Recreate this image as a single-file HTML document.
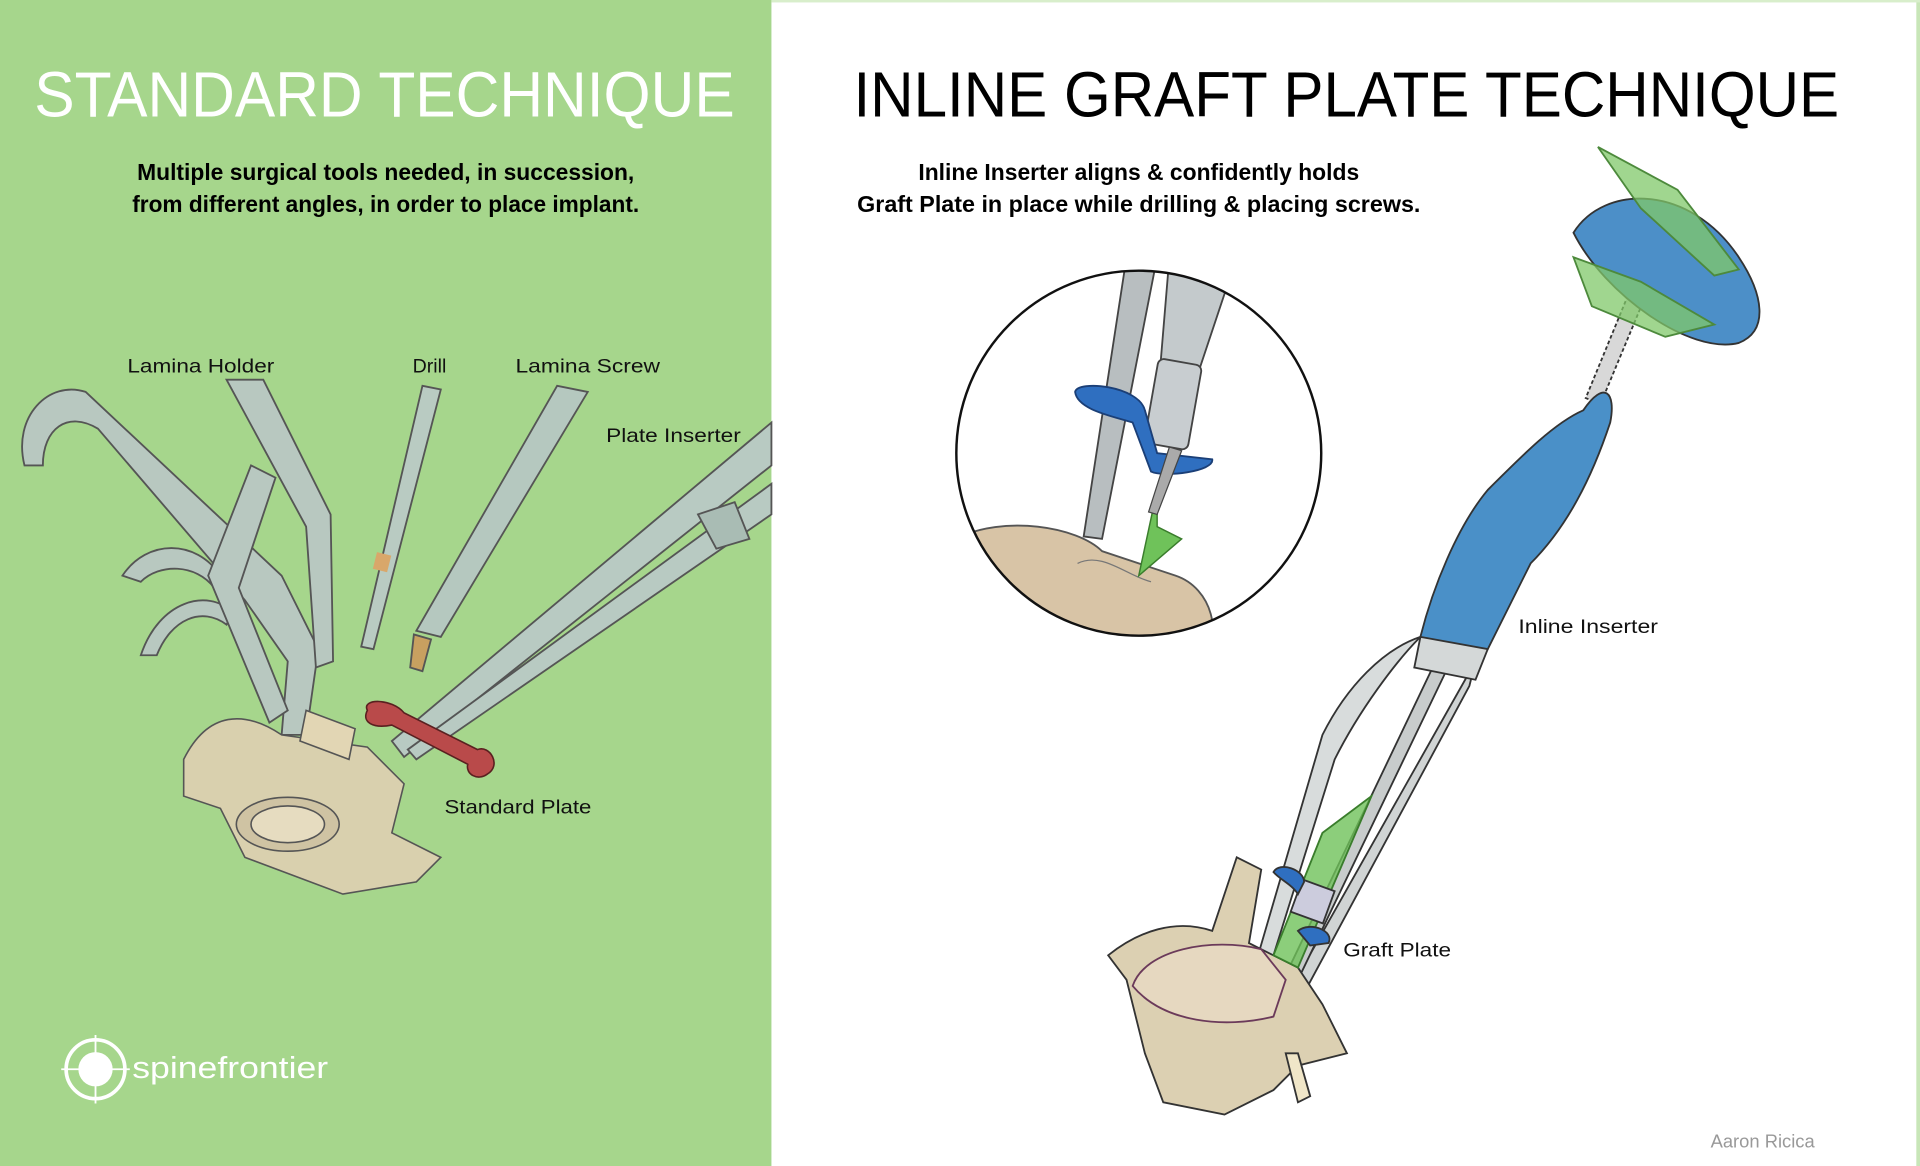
<!DOCTYPE html>
<html><head><meta charset="utf-8"><style>
html,body{margin:0;padding:0;background:#fff;width:1920px;height:1166px;overflow:hidden}
svg{display:block}
text{font-family:"Liberation Sans",sans-serif}
</style></head><body>
<svg width="1920" height="1166" viewBox="0 0 1568 952" preserveAspectRatio="none" xmlns="http://www.w3.org/2000/svg">
<rect x="0" y="0" width="1568" height="952" fill="#fff"/>
<rect x="0" y="0" width="630" height="952" fill="#a6d68c"/>
<rect x="1565" y="0" width="3" height="952" fill="#c8e6b8"/>
<rect x="630" y="0" width="938" height="2" fill="#d8eecb"/>

<text x="28" y="95" font-size="52" fill="#fff" textLength="572" lengthAdjust="spacingAndGlyphs" font-weight="300">STANDARD TECHNIQUE</text>
<text x="697" y="95" font-size="52" fill="#000" textLength="805" lengthAdjust="spacingAndGlyphs">INLINE GRAFT PLATE TECHNIQUE</text>
<g font-weight="bold" font-size="19" text-anchor="middle">
<text x="315" y="147" textLength="406" lengthAdjust="spacingAndGlyphs">Multiple surgical tools needed, in succession,</text>
<text x="315" y="173" textLength="414" lengthAdjust="spacingAndGlyphs">from different angles, in order to place implant.</text>
<text x="930" y="147" textLength="360" lengthAdjust="spacingAndGlyphs">Inline Inserter aligns &amp; confidently holds</text>
<text x="930" y="173" textLength="460" lengthAdjust="spacingAndGlyphs">Graft Plate in place while drilling &amp; placing screws.</text>
</g>

<g stroke="#555" stroke-width="1.5" fill="#b8c8c0">
 <path d="M20 380 C10 340 40 310 70 320 L230 470 L260 530 L250 600 L230 600 L235 540 L200 490 L80 350 C55 335 35 350 35 380 Z"/>
 <path d="M100 470 C120 440 160 440 180 470 L175 480 C160 460 130 460 115 475 Z"/>
 <path d="M115 535 C130 490 170 480 190 500 L185 510 C165 495 140 505 128 535 Z"/>
 <path d="M185 310 L215 310 L270 420 L272 540 L258 545 L250 430 Z"/>
 <path d="M170 470 L205 380 L225 390 L195 480 L235 580 L220 590 Z"/>
 <path d="M345 315 L360 318 L305 530 L295 528 Z" fill="#b9cbc2"/>
 <rect x="306" y="452" width="12" height="14" fill="#d9a76a" stroke="none" transform="rotate(14 312 459)"/>
 <path d="M455 315 L480 320 L360 520 L340 515 Z" fill="#b5c8bf"/>
 <path d="M338 518 L352 522 L345 548 L335 545 Z" fill="#c8a060"/>
 <path d="M630 345 L630 380 L330 618 L320 605 Z" fill="#b8cac2"/>
 <path d="M630 395 L630 420 L340 620 L333 612 Z" fill="#b8cac2"/>
 <path d="M570 420 L600 410 L612 440 L585 448 Z" fill="#a9bcb4"/>
</g>
<g stroke="#555" stroke-width="1.3">
 <path d="M150 620 C170 580 200 580 230 600 L300 610 L330 640 L320 680 L360 700 L340 720 L280 730 L200 700 L180 660 L150 650 Z" fill="#d9d0ae"/>
 <ellipse cx="235" cy="673" rx="42" ry="22" fill="#cfc3a3"/>
 <ellipse cx="235" cy="673" rx="30" ry="15" fill="#e6dcc0"/>
 <path d="M250 580 L290 595 L285 620 L245 605 Z" fill="#e2d6b4"/>
</g>
<path d="M300 580 C295 570 320 570 330 582 L390 612 C400 608 410 625 398 632 C390 638 380 632 382 624 L320 592 C305 595 295 590 300 580 Z" fill="#b94a4a" stroke="#5a2020" stroke-width="1.3"/>

<g font-size="16" fill="#111">
<text x="104" y="304" textLength="120" lengthAdjust="spacingAndGlyphs">Lamina Holder</text>
<text x="337" y="304">Drill</text>
<text x="421" y="304" textLength="118" lengthAdjust="spacingAndGlyphs">Lamina Screw</text>
<text x="495" y="361" textLength="110" lengthAdjust="spacingAndGlyphs">Plate Inserter</text>
<text x="363" y="664" textLength="120" lengthAdjust="spacingAndGlyphs">Standard Plate</text>
<text x="1240" y="517" textLength="114" lengthAdjust="spacingAndGlyphs">Inline Inserter</text>
<text x="1097" y="781" textLength="88" lengthAdjust="spacingAndGlyphs">Graft Plate</text>
</g>

<circle cx="78" cy="873" r="24" fill="none" stroke="#fff" stroke-width="3"/>
<circle cx="78" cy="873" r="14" fill="#fff"/>
<path d="M78 845 L78 901 M50 873 L106 873" stroke="#fff" stroke-width="1.5"/>
<text x="108" y="880" font-size="25" fill="#fff" textLength="160" lengthAdjust="spacingAndGlyphs">spinefrontier</text>

<defs><clipPath id="c"><circle cx="930" cy="370" r="149"/></clipPath></defs>
<g clip-path="url(#c)">
 <path d="M780 440 C820 420 880 430 900 450 L960 470 C990 480 1000 520 980 540 L780 540 Z" fill="#d8c4a6" stroke="#555" stroke-width="1.5"/>
 <path d="M880 460 C900 450 920 470 940 475" stroke="#777" fill="none"/>
 <path d="M920 210 L945 210 L900 440 L885 438 Z" fill="#b8bec0" stroke="#444" stroke-width="1.5"/>
 <path d="M955 210 L1010 210 L970 330 L945 330 Z" fill="#c4cacc" stroke="#444" stroke-width="1.5"/>
 <rect x="940" y="295" width="36" height="70" rx="5" fill="#c8cdd0" stroke="#444" stroke-width="1.5" transform="rotate(10 958 330)"/>
 <path d="M878 320 C880 310 930 315 935 335 L945 370 L990 375 C992 385 950 390 940 385 L925 345 C910 340 880 335 878 320 Z" fill="#2f6fc0" stroke="#1b3f77" stroke-width="1.5"/>
 <path d="M945 400 L930 470 L965 440 L945 430 Z" fill="#6fc25a" stroke="#3a7d2c" stroke-width="1.2"/>
 <path d="M955 365 L965 368 L945 420 L938 418 Z" fill="#aaa" stroke="#444"/>
</g>
<circle cx="930" cy="370" r="149" fill="none" stroke="#111" stroke-width="2"/>

<g stroke="#333" stroke-width="1.5">
 <path d="M1330 240 L1342 246 L1307 330 L1295 325 Z" fill="#d8d8d8" stroke-dasharray="3 2"/>
 <path d="M1293 335 C1310 310 1320 320 1315 345 C1300 390 1280 430 1250 460 L1215 530 C1200 550 1165 545 1160 520 C1170 480 1190 430 1215 400 C1245 370 1270 345 1293 335 Z" fill="#4a90c8"/>
 <path d="M1160 520 C1140 540 1110 580 1090 620 L1040 780 L1028 778 L1080 600 C1100 560 1130 530 1160 520 Z" fill="#d8dcdc"/>
 <path d="M1205 540 L1200 560 L1060 820 L1048 818 Z" fill="#d0d4d4"/>
 <path d="M1180 550 L1060 800 L1050 796 L1170 545 Z" fill="#c8cccc"/>
 <path d="M1160 520 L1215 530 L1205 555 L1155 545 Z" fill="#d4d8d8"/>
 <path d="M1285 190 C1310 150 1380 150 1420 210 C1440 240 1445 270 1420 280 C1380 290 1310 240 1285 190 Z" fill="#4c8fc8"/>
 <path d="M1305 120 L1370 155 L1420 220 L1400 225 L1340 170 Z" fill="#80c86a" fill-opacity="0.75" stroke="#4d8a3c"/>
 <path d="M1285 210 L1340 230 L1400 265 L1360 275 L1300 250 Z" fill="#80c86a" fill-opacity="0.75" stroke="#4d8a3c"/>
 <path d="M905 780 C930 760 960 750 990 760 L1010 700 L1030 710 L1020 770 L1060 790 L1080 820 L1100 860 L1060 870 L1040 890 L1000 910 L950 900 L935 860 L920 800 Z" fill="#dcd0b2"/>
 <path d="M925 805 C935 775 990 765 1030 775 L1050 800 L1040 830 C1000 840 950 835 925 805 Z" fill="#e6d8c0" stroke="#6b3a5a"/>
 <path d="M1050 860 L1060 900 L1070 895 L1060 860 Z" fill="#f0e6c8"/>
 <path d="M1080 680 L1120 650 L1060 790 L1040 780 Z" fill="#6fc25a" fill-opacity="0.8" stroke="#3a7d2c"/>
 <rect x="1058" y="722" width="28" height="28" fill="#ccd" transform="rotate(20 1072 736)"/>
 <path d="M1040 712 C1045 703 1065 710 1065 720 L1060 730 C1055 722 1045 718 1040 712 Z" fill="#2f6fc0"/>
 <path d="M1060 760 C1070 752 1090 760 1085 770 L1070 772 Z" fill="#2f6fc0"/>
</g>
<text x="1397" y="937" font-size="15" fill="#999">Aaron Ricica</text>
</svg>
</body></html>
